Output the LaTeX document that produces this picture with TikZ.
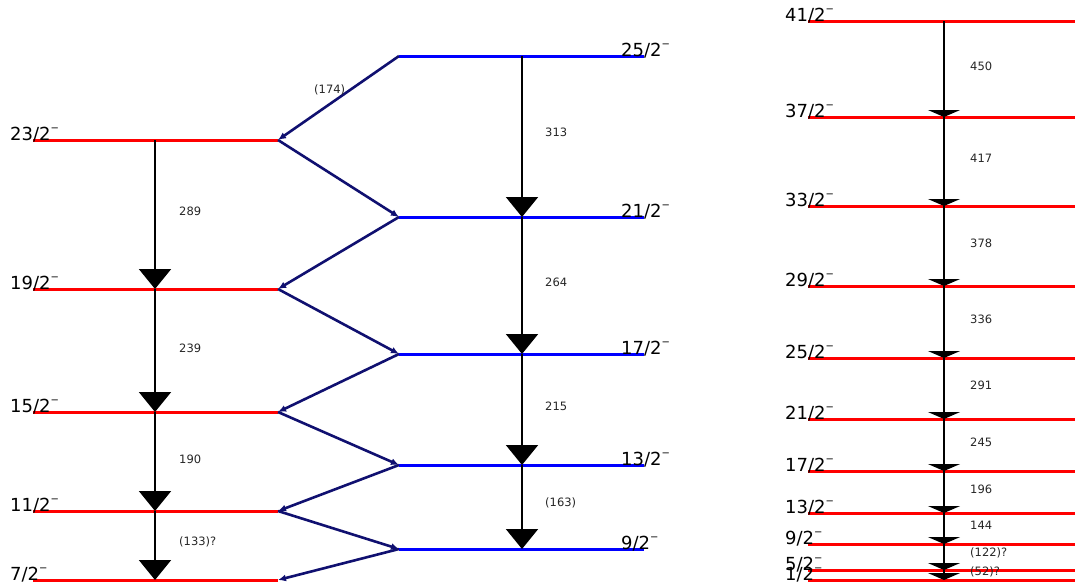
\documentclass[tikz,border=0pt]{standalone}
\usepackage{fontspec}
\setmainfont{DejaVu Sans}
\usetikzlibrary{arrows.meta}
\definecolor{lvred}{RGB}{255,0,0}
\definecolor{lvblue}{RGB}{0,0,255}
\definecolor{zig}{RGB}{16,16,112}
\newcommand{\smin}{\raisebox{9pt}{\fontsize{10}{10}\selectfont −}}
\begin{document}
\begin{tikzpicture}[x=1pt,y=-1pt,
  redlev/.style={draw=lvred,line width=3pt},
  bluelev/.style={draw=lvblue,line width=3pt},
  jlab/.style={anchor=base west,inner sep=0pt,font=\fontsize{18}{22}\selectfont},
  elab/.style={anchor=west,inner sep=0pt,font=\fontsize{11.5}{13}\selectfont,text=black!85},
  bigarr/.style={draw=black,line width=2pt,-{Triangle[length=20pt,width=32pt]}},
  flatarr/.style={draw=black,line width=2pt,-{Triangle[length=7pt,width=32pt]}},
  zigarr/.style={draw=zig,line width=2.6pt,-{Latex[length=8pt,width=7pt]}}]
\useasboundingbox (0,0) rectangle (1075,587);
% left band
\foreach \n/\y in {23/140,19/289,15/412,11/511,7/580}{
  \coordinate (La\n) at (33,\y);
  \coordinate (Lb\n) at (278,\y);
  \coordinate (Lm\n) at (155,\y);
  \draw[redlev] (La\n) -- (Lb\n);
  \node[jlab] (Lt\n) at (10,\y) {\n/2\smin};
}
% middle band
\foreach \n/\y in {25/56,21/217,17/354,13/465,9/549}{
  \coordinate (Ma\n) at (399,\y);
  \coordinate (Mb\n) at (644,\y);
  \coordinate (Mm\n) at (522,\y);
  \draw[bluelev] (Ma\n) -- (Mb\n);
  \node[jlab] (Mt\n) at (621,\y) {\n/2\smin};
}
% right band
\foreach \n/\y in {41/21,37/117,33/206,29/286,25/358,21/419,17/471,13/513,9/544,5/570,1/580}{
  \coordinate (Ra\n) at (808,\y);
  \coordinate (Rb\n) at (1075,\y);
  \coordinate (Rm\n) at (944,\y);
  \draw[redlev] (Ra\n) -- (Rb\n);
  \node[jlab] (Rt\n) at (785,\y) {\n/2\smin};
}
% left verticals
\foreach \a/\b/\t/\ly in {23/19/289/211,19/15/239/348,15/11/190/459,11/7/(133)?/542}{
  \draw[bigarr] (Lm\a) -- (Lm\b);
  \node[elab] (Le\a) at (179,\ly) {\t};
}
% middle verticals
\foreach \a/\b/\t/\ly in {25/21/313/132,21/17/264/282,17/13/215/406,13/9/(163)/503}{
  \draw[bigarr] (Mm\a) -- (Mm\b);
  \node[elab] (Me\a) at (545,\ly) {\t};
}
% right verticals
\foreach \a/\b/\t/\ly in {41/37/450/66,37/33/417/158,33/29/378/243,29/25/336/319,25/21/291/385,21/17/245/442,17/13/196/489,13/9/144/525,9/5/(122)?/553,5/1/(52)?/572}{
  \draw[flatarr] (Rm\a) -- (Rm\b);
  \node[elab] (Re\a) at (970,\ly) {\t};
}
% zigzag
\draw[zigarr] (Ma25) -- (Lb23);
\draw[zigarr] (Lb23) -- (Ma21);
\draw[zigarr] (Ma21) -- (Lb19);
\draw[zigarr] (Lb19) -- (Ma17);
\draw[zigarr] (Ma17) -- (Lb15);
\draw[zigarr] (Lb15) -- (Ma13);
\draw[zigarr] (Ma13) -- (Lb11);
\draw[zigarr] (Lb11) -- (Ma9);
\draw[zigarr] (Ma9) -- (Lb7);
\node[elab] (z174) at (314,90) {(174)};
\end{tikzpicture}
\end{document}
